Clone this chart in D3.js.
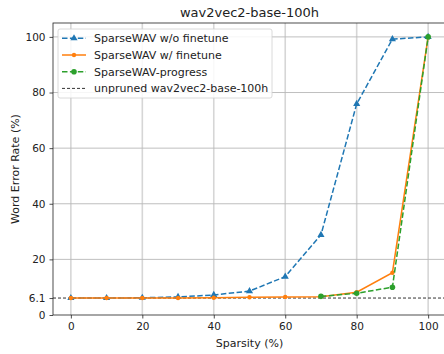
<!DOCTYPE html>
<html>
<head>
<meta charset="utf-8">
<script src="https://cdn.jsdelivr.net/npm/d3@7"></script>
<style>
  body { margin: 0; background: #fff; }
  text { font-family: 'DejaVu Sans', sans-serif; fill: #222; }
</style>
</head>
<body>
<svg width="444" height="354"></svg>
<script>
const sparsity = [0, 10, 20, 30, 40, 50, 60, 70, 80, 90, 100]
const woFinetune = [6.1, 6.1, 6.2, 6.5, 7.2, 8.6, 13.8, 28.8, 75.9, 99.2, 100]
const wFinetune = [6.1, 6.1, 6.1, 6.1, 6.2, 6.4, 6.5, 6.6, 8.2, 15.2, 100]
const progressX = [70, 80, 90, 100]
const progress = [6.7, 7.8, 10.0, 100]
const baseline = 6.1
const xTicks = [0, 20, 40, 60, 80, 100]
const yTicks = [0, 6.1, 20, 40, 60, 80, 100]
const legendLabels = ['SparseWAV w/o finetune', 'SparseWAV w/ finetune', 'SparseWAV-progress', 'unpruned wav2vec2-base-100h']

const margin = { left: 53, top: 23, right: 446, bottom: 315 }
const svg = d3.select('svg')

const x = d3.scaleLinear().domain([-5, 105]).range([margin.left, margin.right])
const y = d3.scaleLinear().domain([0, 105]).range([margin.bottom, margin.top])

// grid
svg.append('g').selectAll('line').data(xTicks).enter().append('line')
  .attr('x1', d => x(d)).attr('x2', d => x(d))
  .attr('y1', margin.top).attr('y2', margin.bottom)
  .style('stroke', '#d6d6d6').style('stroke-width', 1.6)
svg.append('g').selectAll('line').data([20, 40, 60, 80, 100]).enter().append('line')
  .attr('x1', margin.left).attr('x2', margin.right)
  .attr('y1', d => y(d)).attr('y2', d => y(d))
  .style('stroke', '#b8b8b8').style('stroke-width', 0.9)

// baseline
svg.append('line')
  .attr('x1', margin.left).attr('x2', margin.right)
  .attr('y1', y(baseline)).attr('y2', y(baseline))
  .style('stroke', '#333').style('stroke-width', 1).style('stroke-dasharray', '3,2')

// axes
const xAxis = svg.append('g')
  .attr('transform', `translate(0,${margin.bottom})`)
  .call(d3.axisBottom(x).tickValues(xTicks).tickSize(3.5).tickPadding(4))
const yAxis = svg.append('g')
  .attr('transform', `translate(${margin.left},0)`)
  .call(d3.axisLeft(y).tickValues(yTicks).tickFormat(d => d).tickSize(3.5).tickPadding(4))
for (const ax of [xAxis, yAxis]) {
  ax.select('.domain').remove()
  ax.selectAll('text').style('font-size', '10.5px').style('font-family', 'DejaVu Sans').attr('fill', '#222')
  ax.selectAll('line').style('stroke', '#222').style('stroke-width', 0.8)
}
// frame
svg.append('rect')
  .attr('x', margin.left).attr('y', margin.top)
  .attr('width', margin.right - margin.left).attr('height', margin.bottom - margin.top)
  .style('fill', 'none').style('stroke', '#222').style('stroke-width', 0.8)

const line = d3.line().x(d => x(d[0])).y(d => y(d[1]))
const tri = d3.symbol().type(d3.symbolTriangle).size(22)

function series (xs, ys, color, dash, marker) {
  const pts = xs.map((v, i) => [v, ys[i]])
  svg.append('path').datum(pts).attr('d', line)
    .style('fill', 'none').style('stroke', color).style('stroke-width', 1.5)
    .style('stroke-dasharray', dash)
  const g = svg.append('g')
  if (marker === 'tri') {
    g.selectAll('path').data(pts).enter().append('path')
      .attr('d', tri).attr('transform', d => `translate(${x(d[0])},${y(d[1])})`)
      .style('fill', color)
  } else {
    g.selectAll('circle').data(pts).enter().append('circle')
      .attr('cx', d => x(d[0])).attr('cy', d => y(d[1])).attr('r', marker)
      .style('fill', color)
  }
}

series(sparsity, woFinetune, '#1f77b4', '5.5,2.4', 'tri')
series(sparsity, wFinetune, '#ff7f0e', null, 2.2)
series(progressX, progress, '#2ca02c', '5.5,2.4', 2.8)

// title and labels
svg.append('text').attr('x', (margin.left + margin.right) / 2).attr('y', 17)
  .attr('text-anchor', 'middle').style('font-size', '13px').text('wav2vec2-base-100h')
svg.append('text').attr('x', x(50)).attr('y', 347)
  .attr('text-anchor', 'middle').style('font-size', '11px').text('Sparsity (%)')
svg.append('text').attr('transform', `translate(19,${(margin.top + margin.bottom) / 2}) rotate(-90)`)
  .attr('text-anchor', 'middle').style('font-size', '11px').text('Word Error Rate (%)')

// legend
const legend = svg.append('g').attr('transform', 'translate(58,29)')
legend.append('rect').attr('width', 214).attr('height', 69).attr('rx', 2)
  .style('fill', 'rgba(255,255,255,0.85)').style('stroke', '#d0d0d0').style('stroke-width', 0.8)
const legendStyles = [
  { color: '#1f77b4', dash: '5.5,2.4', marker: 'tri' },
  { color: '#ff7f0e', dash: null, marker: 2.2 },
  { color: '#2ca02c', dash: '5.5,2.4', marker: 2.8 },
  { color: '#333', dash: '3,2', marker: null, width: 1 }
]
legendLabels.forEach((label, i) => {
  const s = legendStyles[i]
  const ly = 9.3 + i * 16.7
  legend.append('line').attr('x1', 4).attr('x2', 28).attr('y1', ly).attr('y2', ly)
    .style('stroke', s.color).style('stroke-width', s.width || 1.5).style('stroke-dasharray', s.dash)
  if (s.marker === 'tri') {
    legend.append('path').attr('d', tri).attr('transform', `translate(16,${ly})`).style('fill', s.color)
  } else if (s.marker) {
    legend.append('circle').attr('cx', 16).attr('cy', ly).attr('r', s.marker).style('fill', s.color)
  }
  legend.append('text').attr('x', 36).attr('y', ly + 4).style('font-size', '11px').text(label)
})
</script>
</body>
</html>
